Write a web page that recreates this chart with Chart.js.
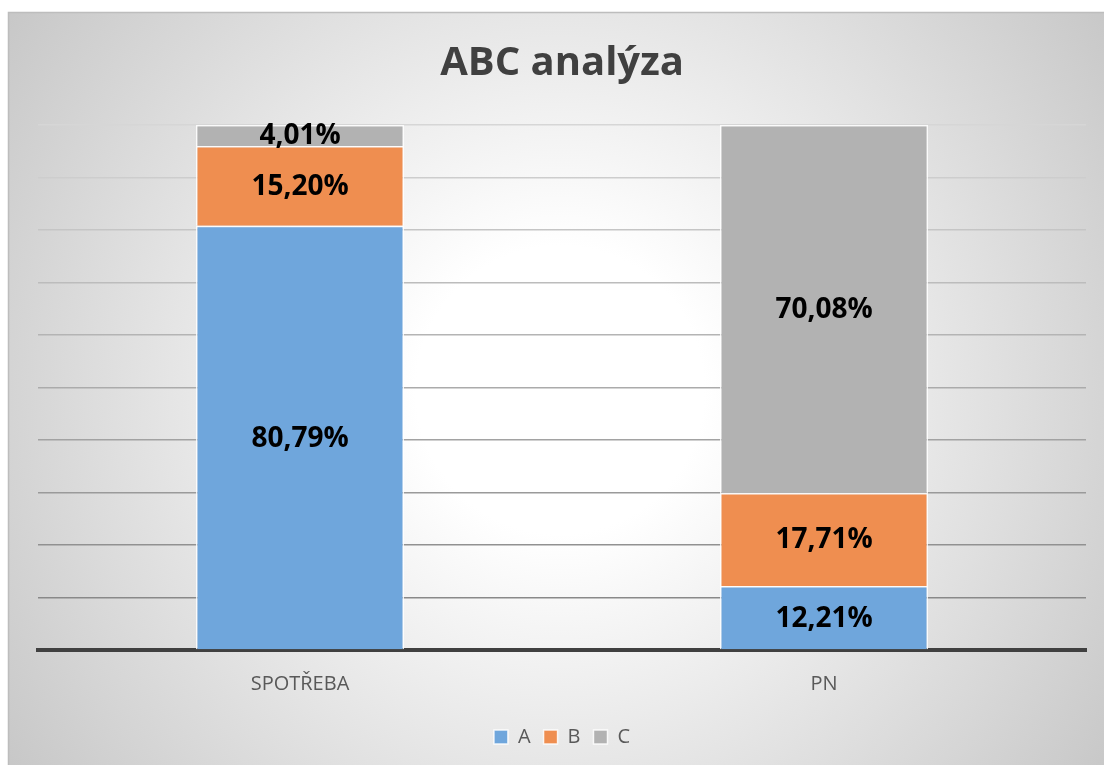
<!DOCTYPE html>
<html>
<head>
<meta charset="utf-8">
<title>ABC analýza</title>
<script src="https://cdn.jsdelivr.net/npm/chart.js@4"></script>
<style>
  html, body { margin: 0; padding: 0; background: #fff; }
  #wrap { width: 1104px; height: 765px; position: relative; }
</style>
</head>
<body>
<div id="wrap"><canvas id="abc-chart"></canvas></div>
<script>
// ABC analysis — stacked share per category
const categories = ["SPOTŘEBA", "PN"];
const seriesNames = ["A", "B", "C"];
const valuesA = [80.79, 12.21];
const valuesB = [15.2, 17.71];
const valuesC = [4.01, 70.08];
const yTicks = [0, 10, 20, 30, 40, 50, 60, 70, 80, 90, 100];

const COLORS = ["rgb(111,166,220)", "rgb(239,142,80)", "rgb(178,178,178)"];
const FONT = "'Open Sans', 'DejaVu Sans', sans-serif";

const bgPlugin = {
  id: "bg",
  beforeDraw(chart) {
    const { ctx, width, height } = chart;
    ctx.save();
    ctx.fillStyle = "#fff";
    ctx.fillRect(0, 0, width, height);
    const g = ctx.createRadialGradient(560, 390, 0, 560, 390, 720);
    g.addColorStop(0, "#ffffff");
    g.addColorStop(0.2, "#ffffff");
    g.addColorStop(1, "#c2c2c2");
    ctx.fillStyle = g;
    ctx.fillRect(8, 12, width, height);
    ctx.strokeStyle = "#bdbdbd";
    ctx.lineWidth = 1.5;
    ctx.beginPath();
    ctx.moveTo(8.5, height);
    ctx.lineTo(8.5, 12.5);
    ctx.lineTo(width, 12.5);
    ctx.stroke();
    ctx.restore();
  },
};

const labelPlugin = {
  id: "segLabels",
  afterDatasetsDraw(chart) {
    const { ctx } = chart;
    ctx.save();
    ctx.font = `bold 28px ${FONT}`;
    ctx.fillStyle = "#000";
    ctx.textAlign = "center";
    ctx.textBaseline = "middle";
    chart.data.datasets.forEach((ds, i) => {
      chart.getDatasetMeta(i).data.forEach((bar, j) => {
        const txt = ds.data[j].toFixed(2).replace(".", ",") + "%";
        ctx.fillText(txt, bar.x, (bar.y + bar.base) / 2 + 1);
      });
    });
    ctx.restore();
  },
};

function gridShade(value) {
  const t = value / 100;
  const c = Math.round(128 + (214 - 128) * t);
  return `rgb(${c},${c},${c})`;
}

const ctx = document.getElementById("abc-chart").getContext("2d");
new Chart(ctx, {
  type: "bar",
  data: {
    labels: categories,
    datasets: [valuesA, valuesB, valuesC].map((vals, i) => ({
      label: seriesNames[i],
      data: vals,
      backgroundColor: COLORS[i],
      borderColor: "rgba(255,255,255,0.85)",
      borderWidth: 1.5,
      barPercentage: 0.397,
      categoryPercentage: 1,
    })),
  },
  options: {
    responsive: true,
    maintainAspectRatio: false,
    animation: false,
    layout: { padding: { left: 38, right: 18, top: 0, bottom: 8 } },
    plugins: {
      title: {
        display: true,
        text: "ABC analýza",
        color: "#404040",
        font: { family: FONT, size: 40, weight: "bold" },
        padding: { top: 40, bottom: 37 },
      },
      legend: {
        position: "bottom",
        labels: {
          color: "#595959",
          font: { family: FONT, size: 20 },
          boxWidth: 14,
          boxHeight: 14,
          padding: 13,
        },
      },
      tooltip: { enabled: false },
    },
    scales: {
      x: {
        stacked: true,
        grid: { display: false, drawTicks: false },
        border: { color: "#404040", width: 4 },
        ticks: {
          color: "#595959",
          font: { family: FONT, size: 20 },
          padding: 22,
        },
        afterFit(scale) { scale.height = 64; },
      },
      y: {
        stacked: true,
        min: 0,
        max: 100,
        afterBuildTicks(scale) { scale.ticks = yTicks.map((v) => ({ value: v })); },
        grid: {
          color: (c) => gridShade(c.tick ? c.tick.value : 50),
          lineWidth: 1.5,
          drawTicks: false,
        },
        border: { display: false },
        ticks: { display: false },
      },
    },
  },
  plugins: [bgPlugin, labelPlugin],
});
</script>
</body>
</html>
